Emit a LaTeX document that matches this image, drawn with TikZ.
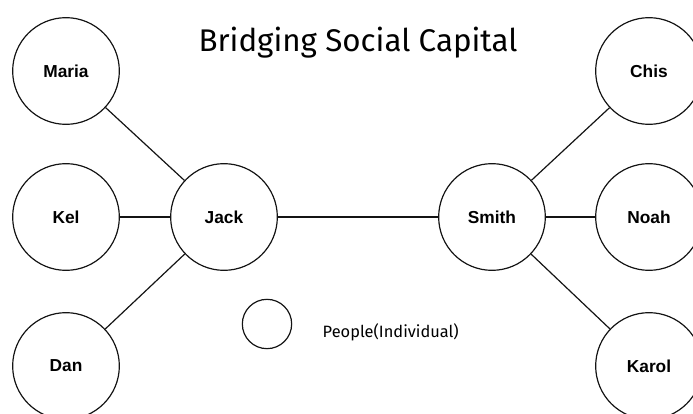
\documentclass[tikz,border=0pt]{standalone}
\usepackage{fontspec}
\setmainfont{Liberation Sans}
\newfontfamily\titlefont{Fira Sans}
\usetikzlibrary{positioning}
\definecolor{inkgray}{RGB}{20, 20, 20}

\tikzset{
  person/.style={draw=inkgray, circle, line width=0.9pt, minimum size=80pt, inner sep=0pt, font=\fontsize{13}{15}\selectfont\bfseries},
  tie/.style={draw=inkgray, line width=0.9pt}
}

\begin{document}
\begin{tikzpicture}[x=0.75pt, y=-0.75pt]
  \useasboundingbox (0,0) rectangle (693,414);
  \clip (0,0) rectangle (693,414);

  \node[font=\titlefont\fontsize{23.5}{27}\selectfont] (title) at (358,43) {Bridging Social Capital};

  % left group
  \node[person] (maria) at (66,71) {Maria};
  \node[person] (kel) at (66,217) {Kel};
  \node[person] (dan) at (66,366) {Dan};
  \node[person] (jack) at (224,217) {Jack};

  % right group
  \node[person] (smith) at (492,217) {Smith};
  \node[person] (chis) at (649,71) {Chis};
  \node[person] (noah) at (649,217) {Noah};
  \node[person] (karol) at (649,366) {Karol};

  % legend
  \node[draw=inkgray, circle, line width=0.9pt, minimum size=37pt] (legend) at (267,324) {};
  \node[font=\titlefont\fontsize{12.3}{14}\selectfont, anchor=west] (legendtext) at (318,332) {People(Individual)};

  \draw[tie] (maria) -- (jack);
  \draw[tie] (kel) -- (jack);
  \draw[tie] (dan) -- (jack);
  \draw[tie] (jack) -- (smith);
  \draw[tie] (smith) -- (chis);
  \draw[tie] (smith) -- (noah);
  \draw[tie] (smith) -- (karol);
\end{tikzpicture}
\end{document}
